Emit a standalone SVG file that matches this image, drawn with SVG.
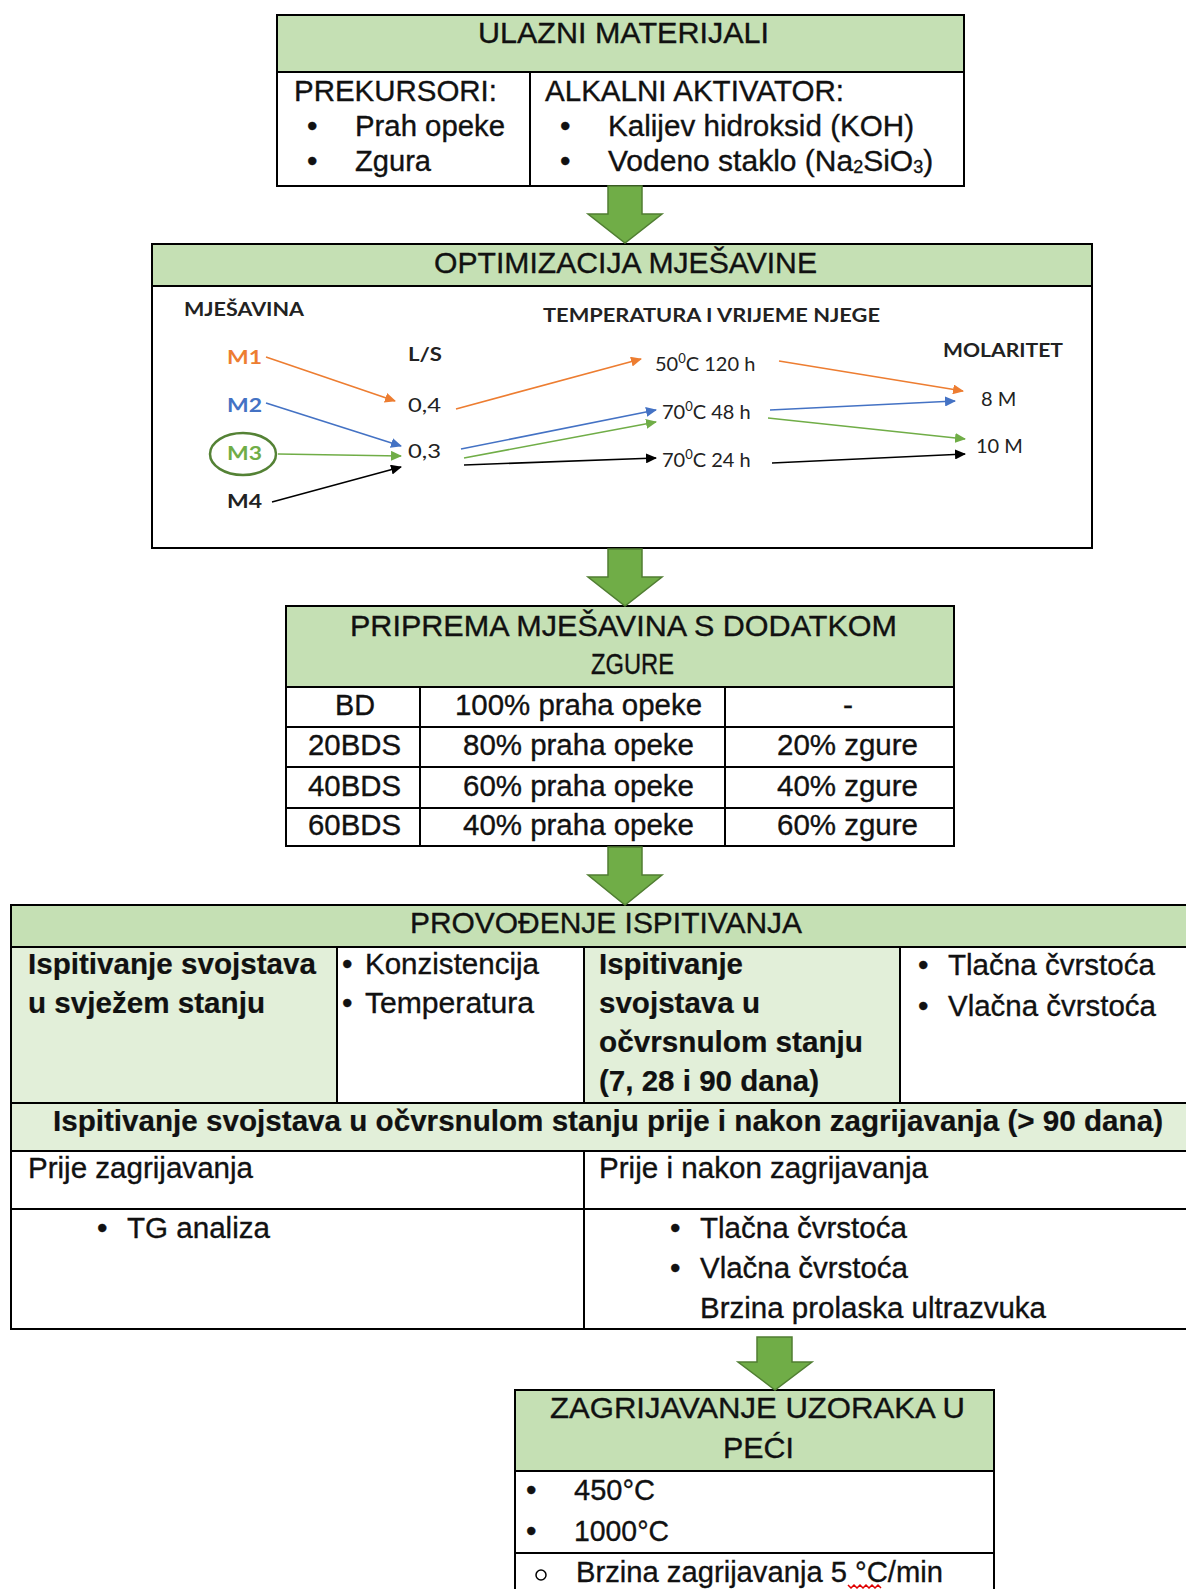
<svg xmlns="http://www.w3.org/2000/svg" width="1186" height="1589" viewBox="0 0 1186 1589">
<style>
.t{font-family:"Liberation Sans",Arial,sans-serif;font-size:30px;fill:#111;stroke:#111;stroke-width:0.35}
.b{font-weight:bold;stroke-width:0.2}
.c{font-family:Lato,"Open Sans",sans-serif;font-size:20px;fill:#222}
.cb{font-family:Lato,"Open Sans",sans-serif;font-size:18px;font-weight:bold;fill:#222}
.box{fill:#fff;stroke:#000;stroke-width:2}
.hdr{fill:#C5E0B4;stroke:#000;stroke-width:2}
.lg{fill:#E2EFD9;stroke:#000;stroke-width:2}
.ln{stroke:#000;stroke-width:2;fill:none}
.big{fill:#70AD47;stroke:#507E32;stroke-width:1.5}
.ao{stroke:#ED7D31;stroke-width:1.6;fill:none}
.ab{stroke:#4472C4;stroke-width:1.6;fill:none}
.ag{stroke:#70AD47;stroke-width:1.6;fill:none}
.ak{stroke:#000;stroke-width:1.6;fill:none}
</style>
<defs>
<marker id="mo" markerUnits="userSpaceOnUse" markerWidth="11" markerHeight="10" refX="10" refY="5" orient="auto"><path d="M0,0 L11,5 L0,10 z" fill="#ED7D31"/></marker>
<marker id="mb" markerUnits="userSpaceOnUse" markerWidth="11" markerHeight="10" refX="10" refY="5" orient="auto"><path d="M0,0 L11,5 L0,10 z" fill="#4472C4"/></marker>
<marker id="mg" markerUnits="userSpaceOnUse" markerWidth="11" markerHeight="10" refX="10" refY="5" orient="auto"><path d="M0,0 L11,5 L0,10 z" fill="#70AD47"/></marker>
<marker id="mk" markerUnits="userSpaceOnUse" markerWidth="11" markerHeight="10" refX="10" refY="5" orient="auto"><path d="M0,0 L11,5 L0,10 z" fill="#000"/></marker>
</defs>
<rect width="1186" height="1589" fill="#fff"/>

<g id="box1">
<rect class="box" x="277" y="15" width="687" height="171"/>
<rect class="hdr" x="277" y="15" width="687" height="57"/>
<line class="ln" x1="530" y1="72" x2="530" y2="186"/>
<text class="t" x="478" y="43" textLength="291" lengthAdjust="spacingAndGlyphs">ULAZNI MATERIJALI</text>
<text class="t" x="294" y="101" textLength="203" lengthAdjust="spacingAndGlyphs">PREKURSORI:</text>
<text class="t" x="307" y="136">•</text>
<text class="t" x="355" y="136" textLength="150" lengthAdjust="spacingAndGlyphs">Prah opeke</text>
<text class="t" x="307" y="171">•</text>
<text class="t" x="355" y="171" textLength="76" lengthAdjust="spacingAndGlyphs">Zgura</text>
<text class="t" x="545" y="101" textLength="299" lengthAdjust="spacingAndGlyphs">ALKALNI AKTIVATOR:</text>
<text class="t" x="560" y="136">•</text>
<text class="t" x="608" y="136" textLength="306" lengthAdjust="spacingAndGlyphs">Kalijev hidroksid (KOH)</text>
<text class="t" x="560" y="171">•</text>
<text class="t" x="608" y="171">Vodeno staklo (Na<tspan font-size="18" dy="2">2</tspan><tspan dy="-2">SiO</tspan><tspan font-size="18" dy="2">3</tspan><tspan dy="-2">)</tspan></text>
</g>

<g id="box2">
<rect class="box" x="152" y="244" width="940" height="304"/>
<rect class="hdr" x="152" y="244" width="940" height="42"/>
<text class="t" x="434" y="273" textLength="383" lengthAdjust="spacingAndGlyphs">OPTIMIZACIJA MJEŠAVINE</text>
</g>

<g id="labels">
<text class="cb" x="184" y="316" textLength="120" lengthAdjust="spacingAndGlyphs">MJEŠAVINA</text>
<text class="cb" x="543" y="322" textLength="337" lengthAdjust="spacingAndGlyphs">TEMPERATURA I VRIJEME NJEGE</text>
<text class="cb" x="943" y="357" textLength="120" lengthAdjust="spacingAndGlyphs">MOLARITET</text>
<text class="cb" x="408" y="361" textLength="34" lengthAdjust="spacingAndGlyphs">L/S</text>
<text class="cb" x="227" y="364" style="fill:#ED7D31" textLength="35" lengthAdjust="spacingAndGlyphs">M1</text>
<text class="cb" x="227" y="412" style="fill:#4472C4" textLength="35" lengthAdjust="spacingAndGlyphs">M2</text>
<ellipse cx="243" cy="454" rx="33" ry="21" fill="none" stroke="#548235" stroke-width="2.5"/>
<text class="cb" x="227" y="460" style="fill:#70AD47" textLength="35" lengthAdjust="spacingAndGlyphs">M3</text>
<text class="cb" x="227" y="508" textLength="35" lengthAdjust="spacingAndGlyphs">M4</text>
<text class="c" x="408" y="412" textLength="33" lengthAdjust="spacingAndGlyphs">0,4</text>
<text class="c" x="408" y="458" textLength="33" lengthAdjust="spacingAndGlyphs">0,3</text>
<text class="c" x="655" y="371">50<tspan font-size="13" dy="-8">0</tspan><tspan dy="8">C 120 h</tspan></text>
<text class="c" x="662" y="419">70<tspan font-size="13" dy="-8">0</tspan><tspan dy="8">C 48 h</tspan></text>
<text class="c" x="662" y="467">70<tspan font-size="13" dy="-8">0</tspan><tspan dy="8">C 24 h</tspan></text>
<text class="c" x="981" y="406">8 M</text>
<text class="c" x="976" y="453">10 M</text>
</g>

<g id="box3">
<rect class="box" x="286" y="606" width="668" height="240"/>
<rect class="hdr" x="286" y="606" width="668" height="81"/>
<line class="ln" x1="286" y1="727" x2="954" y2="727"/>
<line class="ln" x1="286" y1="767" x2="954" y2="767"/>
<line class="ln" x1="286" y1="808" x2="954" y2="808"/>
<line class="ln" x1="420" y1="687" x2="420" y2="846"/>
<line class="ln" x1="725" y1="687" x2="725" y2="846"/>
<text class="t" x="350" y="636" textLength="547" lengthAdjust="spacingAndGlyphs">PRIPREMA MJEŠAVINA S DODATKOM</text>
<text class="t" x="591" y="674" textLength="83" lengthAdjust="spacingAndGlyphs">ZGURE</text>
<text class="t" x="335" y="715" textLength="40" lengthAdjust="spacingAndGlyphs">BD</text>
<text class="t" x="455" y="715" textLength="247" lengthAdjust="spacingAndGlyphs">100% praha opeke</text>
<text class="t" x="843" y="715">-</text>
<text class="t" x="308" y="755" textLength="93" lengthAdjust="spacingAndGlyphs">20BDS</text>
<text class="t" x="463" y="755" textLength="231" lengthAdjust="spacingAndGlyphs">80% praha opeke</text>
<text class="t" x="777" y="755" textLength="141" lengthAdjust="spacingAndGlyphs">20% zgure</text>
<text class="t" x="308" y="796" textLength="93" lengthAdjust="spacingAndGlyphs">40BDS</text>
<text class="t" x="463" y="796" textLength="231" lengthAdjust="spacingAndGlyphs">60% praha opeke</text>
<text class="t" x="777" y="796" textLength="141" lengthAdjust="spacingAndGlyphs">40% zgure</text>
<text class="t" x="308" y="835" textLength="93" lengthAdjust="spacingAndGlyphs">60BDS</text>
<text class="t" x="463" y="835" textLength="231" lengthAdjust="spacingAndGlyphs">40% praha opeke</text>
<text class="t" x="777" y="835" textLength="141" lengthAdjust="spacingAndGlyphs">60% zgure</text>
</g>

<g id="box4">
<rect class="box" x="11" y="905" width="1190" height="424"/>
<rect class="hdr" x="11" y="905" width="1190" height="42"/>
<rect class="lg" x="11" y="947" width="326" height="156"/>
<rect class="lg" x="584" y="947" width="316" height="156"/>
<line class="ln" x1="337" y1="947" x2="337" y2="1103"/>
<line class="ln" x1="900" y1="947" x2="900" y2="1103"/>
<rect class="lg" x="11" y="1103" width="1190" height="48"/>
<line class="ln" x1="11" y1="1209" x2="1190" y2="1209"/>
<line class="ln" x1="584" y1="1151" x2="584" y2="1329"/>
<text class="t" x="410" y="933" textLength="392" lengthAdjust="spacingAndGlyphs">PROVOĐENJE ISPITIVANJA</text>
<text class="t b" x="28" y="974" textLength="288" lengthAdjust="spacingAndGlyphs">Ispitivanje svojstava</text>
<text class="t b" x="28" y="1013" textLength="237" lengthAdjust="spacingAndGlyphs">u svježem stanju</text>
<text class="t" x="342" y="974">•</text>
<text class="t" x="365" y="974" textLength="174" lengthAdjust="spacingAndGlyphs">Konzistencija</text>
<text class="t" x="342" y="1013">•</text>
<text class="t" x="365" y="1013" textLength="169" lengthAdjust="spacingAndGlyphs">Temperatura</text>
<text class="t b" x="599" y="974" textLength="144" lengthAdjust="spacingAndGlyphs">Ispitivanje</text>
<text class="t b" x="599" y="1013" textLength="161" lengthAdjust="spacingAndGlyphs">svojstava u</text>
<text class="t b" x="599" y="1052" textLength="264" lengthAdjust="spacingAndGlyphs">očvrsnulom stanju</text>
<text class="t b" x="599" y="1091" textLength="220" lengthAdjust="spacingAndGlyphs">(7, 28 i 90 dana)</text>
<text class="t" x="918" y="975">•</text>
<text class="t" x="948" y="975" textLength="207" lengthAdjust="spacingAndGlyphs">Tlačna čvrstoća</text>
<text class="t" x="918" y="1016">•</text>
<text class="t" x="948" y="1016" textLength="208" lengthAdjust="spacingAndGlyphs">Vlačna čvrstoća</text>
<text class="t b" x="53" y="1131" textLength="1110" lengthAdjust="spacingAndGlyphs">Ispitivanje svojstava u očvrsnulom stanju prije i nakon zagrijavanja (&gt; 90 dana)</text>
<text class="t" x="28" y="1178" textLength="225" lengthAdjust="spacingAndGlyphs">Prije zagrijavanja</text>
<text class="t" x="599" y="1178" textLength="329" lengthAdjust="spacingAndGlyphs">Prije i nakon zagrijavanja</text>
<text class="t" x="97" y="1238">•</text>
<text class="t" x="127" y="1238" textLength="143" lengthAdjust="spacingAndGlyphs">TG analiza</text>
<text class="t" x="670" y="1238">•</text>
<text class="t" x="700" y="1238" textLength="207" lengthAdjust="spacingAndGlyphs">Tlačna čvrstoća</text>
<text class="t" x="670" y="1278">•</text>
<text class="t" x="700" y="1278" textLength="208" lengthAdjust="spacingAndGlyphs">Vlačna čvrstoća</text>
<text class="t" x="700" y="1318" textLength="346" lengthAdjust="spacingAndGlyphs">Brzina prolaska ultrazvuka</text>
</g>

<g id="box5">
<rect class="box" x="515" y="1390" width="479" height="220"/>
<rect class="hdr" x="515" y="1390" width="479" height="81"/>
<line class="ln" x1="515" y1="1553" x2="994" y2="1553"/>
<text class="t" x="550" y="1418" textLength="415" lengthAdjust="spacingAndGlyphs">ZAGRIJAVANJE UZORAKA U</text>
<text class="t" x="723" y="1458" textLength="71" lengthAdjust="spacingAndGlyphs">PEĆI</text>
<text class="t" x="526" y="1500">•</text>
<text class="t" x="574" y="1500" textLength="81" lengthAdjust="spacingAndGlyphs">450°C</text>
<text class="t" x="526" y="1541">•</text>
<text class="t" x="574" y="1541" textLength="95" lengthAdjust="spacingAndGlyphs">1000°C</text>
<circle cx="541" cy="1575" r="5" fill="none" stroke="#000" stroke-width="1.5"/>
<text class="t" x="576" y="1582" textLength="367" lengthAdjust="spacingAndGlyphs">Brzina zagrijavanja 5 °C/min</text>
<path d="M848,1585 l3,3 l3,-3 l3,3 l3,-3 l3,3 l3,-3 l3,3 l3,-3 l3,3 l3,-3 l3,3" fill="none" stroke="#E00000" stroke-width="1.5"/>
</g>

<g id="connectors">
<path class="big" d="M608,186 L642,186 L642,214 L662,214 L625,243 L588,214 L608,214 Z"/>
<path class="big" d="M608,549 L642,549 L642,577 L662,577 L625,606 L588,577 L608,577 Z"/>
<path class="big" d="M608,847 L642,847 L642,875 L662,875 L625,905 L588,875 L608,875 Z"/>
<path class="big" d="M757,1337 L792,1337 L792,1362 L812,1362 L775,1390 L738,1362 L757,1362 Z"/>
<line class="ao" x1="266" y1="357" x2="395" y2="401" marker-end="url(#mo)"/>
<line class="ao" x1="456" y1="409" x2="641" y2="359" marker-end="url(#mo)"/>
<line class="ao" x1="779" y1="361" x2="963" y2="391" marker-end="url(#mo)"/>
<line class="ab" x1="266" y1="403" x2="401" y2="446" marker-end="url(#mb)"/>
<line class="ab" x1="461" y1="449" x2="656" y2="410" marker-end="url(#mb)"/>
<line class="ab" x1="770" y1="410" x2="955" y2="401" marker-end="url(#mb)"/>
<line class="ag" x1="278" y1="454" x2="401" y2="456" marker-end="url(#mg)"/>
<line class="ag" x1="464" y1="458" x2="656" y2="422" marker-end="url(#mg)"/>
<line class="ag" x1="768" y1="418" x2="965" y2="439" marker-end="url(#mg)"/>
<line class="ak" x1="272" y1="502" x2="401" y2="467" marker-end="url(#mk)"/>
<line class="ak" x1="464" y1="465" x2="656" y2="458" marker-end="url(#mk)"/>
<line class="ak" x1="772" y1="463" x2="965" y2="454" marker-end="url(#mk)"/>
</g>
</svg>
